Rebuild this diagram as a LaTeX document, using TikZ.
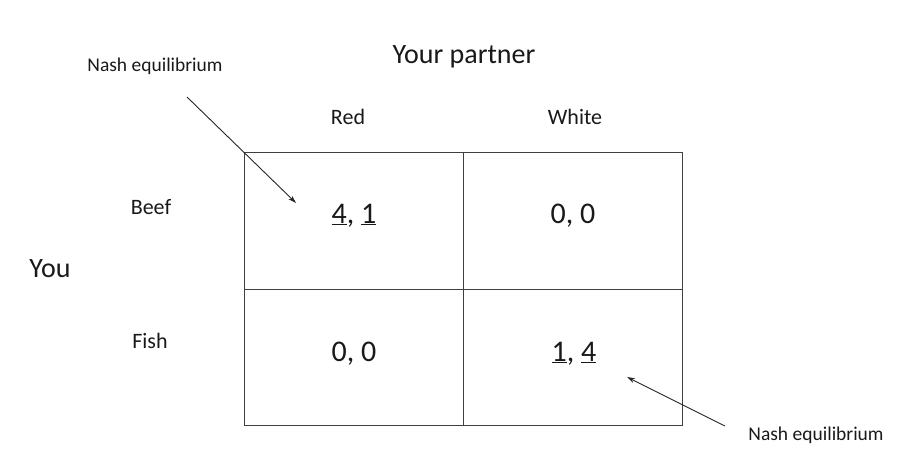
\documentclass[tikz,border=0pt]{standalone}
\usepackage{fontspec}
\setmainfont{Carlito}
\usepackage{tikz}
\usetikzlibrary{arrows.meta}

\begin{document}
\begin{tikzpicture}[
            x=1pt, y=-1pt,
            txt node/.style={anchor=base, inner sep=0pt, text=black!90},
            big node/.style={txt node, font=\fontsize{28}{30}\selectfont},
            head node/.style={txt node, font=\fontsize{22}{24}\selectfont},
            pay node/.style={txt node, font=\fontsize{30}{32}\selectfont},
            note node/.style={txt node, font=\fontsize{19.5}{21}\selectfont},
            grid line/.style={draw=black!75, line width=1pt},
            note arrow/.style={draw=black!85, line width=0.9pt, -{Stealth[length=8pt, width=5pt]}},
            ]
            \useasboundingbox (0,0) rectangle (904,475);
            \def\L{244} \def\M{463} \def\Rt{682}
            \def\T{152} \def\C{289} \def\B{425}
            
            % the table
            \draw[grid line] (\L,\T) rectangle (\Rt,\B);
            \draw[grid line] (\M,\T) -- (\M,\B);
            \draw[grid line] (\L,\C) -- (\Rt,\C);
            
            % players and strategies
            \node[big node] (partner) at (464,63) {Your partner};
            \node[big node] (you) at (50,277) {You};
            \node[head node] (red) at (348,124) {Red};
            \node[head node] (white) at (575,124) {White};
            \node[head node] (beef) at (151,214) {Beef};
            \node[head node] (fish) at (150,348) {Fish};
            
            % payoffs
            \node[pay node] (rb) at (354,223) {\underline{4}, \underline{1}};
            \node[pay node] (wb) at (573,223) {0, 0};
            \node[pay node] (rf) at (354,361) {0, 0};
            \node[pay node] (wf) at (574,361) {\underline{1}, \underline{4}};
            
            % notes
            \node[note node] (nash1) at (155,71) {Nash equilibrium};
            \node[note node] (nash2) at (816,440) {Nash equilibrium};
            \coordinate (n1 from) at (187,97);
            \coordinate (n1 to) at (296,203);
            \coordinate (n2 from) at (725,426);
            \coordinate (n2 to) at (627,377);
            \draw[note arrow] (n1 from) -- (n1 to);
            \draw[note arrow] (n2 from) -- (n2 to);
        \end{tikzpicture}
\end{document}
